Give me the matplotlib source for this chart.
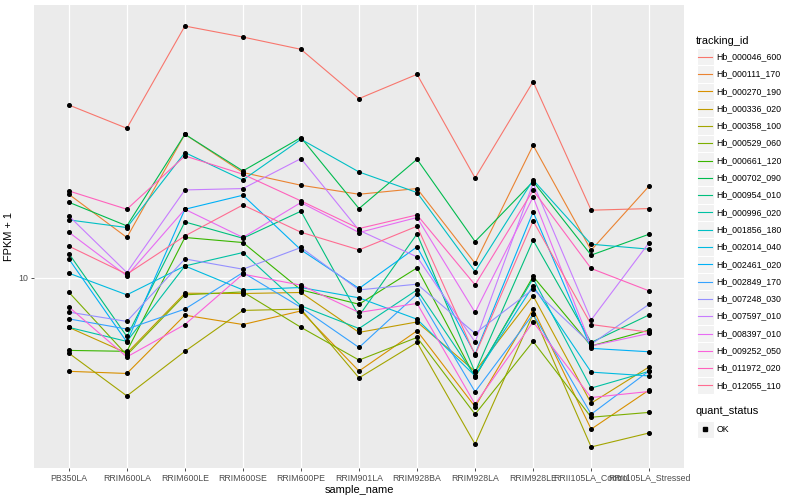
import numpy as np
import matplotlib.pyplot as plt
from matplotlib.patches import Rectangle
from matplotlib.ticker import NullLocator

plt.rcParams['font.family'] = ['Liberation Sans', 'DejaVu Sans']

samples = ["PB350LA", "RRIM600LA", "RRIM600LE", "RRIM600SE", "RRIM600PE",
           "RRIM901LA", "RRIM928BA", "RRIM928LA", "RRIM928LE",
           "RRII105LA_Control", "RRII105LA_Stressed"]

genes = ["Hb_000046_600", "Hb_000111_170", "Hb_000270_190", "Hb_000336_020",
         "Hb_000358_100", "Hb_000529_060", "Hb_000661_120", "Hb_000702_090",
         "Hb_000954_010", "Hb_000996_020", "Hb_001856_180", "Hb_002014_040",
         "Hb_002461_020", "Hb_002849_170", "Hb_007248_030", "Hb_007597_010",
         "Hb_008397_010", "Hb_009252_050", "Hb_011972_020", "Hb_012055_110"]

# ggplot hue palette, 20 levels
colors = ["#F8766D", "#EA8331", "#D89000", "#C09B00", "#A3A500", "#7CAE00",
          "#39B600", "#00BB4E", "#00BF7D", "#00C1A3", "#00BFC4", "#00BAE0",
          "#00B0F6", "#35A2FF", "#9590FF", "#C77CFF", "#E76BF3", "#FA62DB",
          "#FF62BC", "#FF6C91"]

# FPKM + 1 per gene, one value per sample
hb_000046_600 = [37.73, 31.55, 69.18, 63.58, 57.85, 39.63, 47.75, 21.54, 45.15, 16.82, 17.03]
hb_000111_170 = [19.01, 13.64, 30.13, 22.46, 20.37, 19.01, 19.86, 11.19, 27.69, 12.37, 20.26]
hb_000270_190 = [4.88, 4.80, 7.51, 6.99, 7.76, 4.89, 6.66, 3.72, 7.87, 3.13, 4.23]
hb_000336_020 = [6.84, 5.61, 8.89, 8.87, 8.94, 6.58, 7.13, 4.88, 8.71, 3.82, 5.05]
hb_000358_100 = [5.61, 4.04, 5.69, 7.79, 7.87, 4.64, 6.09, 2.79, 7.57, 2.73, 3.04]
hb_000529_060 = [8.96, 5.53, 8.78, 8.98, 6.84, 5.32, 6.33, 3.51, 6.14, 3.43, 3.56]
hb_000661_120 = [5.73, 5.69, 13.64, 13.12, 9.12, 8.17, 10.80, 4.66, 10.11, 5.93, 6.70]
hb_000702_090 = [17.88, 14.91, 30.13, 22.74, 29.38, 17.03, 24.87, 13.22, 20.96, 11.91, 13.99]
hb_000954_010 = [12.06, 6.38, 15.37, 13.56, 16.69, 7.47, 14.02, 4.84, 13.36, 6.09, 7.53]
hb_000996_020 = [6.84, 6.14, 10.96, 12.15, 8.07, 6.78, 9.12, 4.71, 9.95, 4.29, 4.88]
hb_001856_180 = [15.61, 14.72, 26.18, 21.22, 29.00, 22.56, 19.26, 10.50, 21.22, 12.95, 12.47]
hb_002014_040 = [10.37, 8.78, 10.96, 9.12, 9.29, 8.58, 7.28, 4.71, 9.40, 4.85, 4.71]
hb_002461_020 = [11.57, 6.11, 16.94, 18.87, 12.40, 9.22, 12.69, 5.57, 16.60, 5.82, 5.67]
hb_002849_170 = [7.30, 6.75, 7.87, 10.42, 7.97, 5.86, 8.83, 4.17, 7.57, 3.51, 4.90]
hb_007248_030 = [7.69, 7.16, 11.57, 10.69, 12.63, 9.12, 9.53, 6.53, 9.17, 6.01, 8.17]
hb_007597_010 = [16.10, 10.42, 19.65, 19.86, 25.00, 14.42, 11.75, 6.11, 20.69, 7.24, 13.12]
hb_008397_010 = [14.20, 10.16, 16.94, 13.64, 17.84, 14.17, 15.90, 7.67, 18.62, 5.93, 6.53]
hb_009252_050 = [8.00, 5.45, 6.99, 10.29, 9.46, 7.67, 8.22, 3.79, 7.13, 3.99, 4.18]
hb_011972_020 = [19.50, 16.94, 25.51, 22.17, 18.06, 14.61, 16.22, 9.48, 19.60, 10.75, 9.05]
hb_012055_110 = [12.76, 10.29, 13.80, 17.51, 14.20, 12.40, 14.87, 5.53, 15.49, 6.99, 6.59]

series = [hb_000046_600, hb_000111_170, hb_000270_190, hb_000336_020,
          hb_000358_100, hb_000529_060, hb_000661_120, hb_000702_090,
          hb_000954_010, hb_000996_020, hb_001856_180, hb_002014_040,
          hb_002461_020, hb_002849_170, hb_007248_030, hb_007597_010,
          hb_008397_010, hb_009252_050, hb_011972_020, hb_012055_110]

W, H = 800, 500
fig = plt.figure(figsize=(8, 5), dpi=100)
pl, pr, pt, pb = 34, 684, 5, 468
ax = fig.add_axes([pl / W, 1 - pb / H, (pr - pl) / W, (pb - pt) / H])
ax.set_facecolor('#EBEBEB')
for s in ax.spines.values():
    s.set_visible(False)

x = np.arange(len(samples))
for vals, c in zip(series, colors):
    ax.plot(x, vals, color=c, lw=0.8, zorder=2)
for vals in series:
    ax.plot(x, vals, ls='none', marker='o', ms=2.6, color='black', zorder=3)

ax.set_yscale('log')
allv = np.log10(np.concatenate([np.array(v) for v in series]))
lo, hi = allv.min(), allv.max()
pad = 0.05 * (hi - lo)
ax.set_ylim(10 ** (lo - pad), 10 ** (hi + pad))
ax.set_xlim(-0.6, len(samples) - 0.4)
ax.set_yticks([10])
ax.set_yticklabels(['10'])
ax.yaxis.set_minor_locator(NullLocator())
ax.set_xticks(x)
ax.set_xticklabels(samples)
ax.grid(True, which='major', color='white', lw=0.9, zorder=1)
ax.set_axisbelow(True)
ax.tick_params(axis='both', length=2.5, width=0.6, color='#333333',
               labelcolor='#4D4D4D', labelsize=6.3, pad=1.5)
ax.set_xlabel('sample_name', fontsize=7.9, labelpad=2)
ax.set_ylabel('FPKM + 1', fontsize=7.9, labelpad=3)

# legend drawn in pixel coordinates
lg = fig.add_axes([0, 0, 1, 1], zorder=5)
lg.set_xlim(0, W)
lg.set_ylim(H, 0)
lg.axis('off')
lg.text(696, 40.5, 'tracking_id', fontsize=7.9, va='center', ha='left')
step = 17.3
for i, (g, c) in enumerate(zip(genes, colors)):
    cy = 56.7 + step * i
    lg.add_patch(Rectangle((696.5, cy - step / 2), 17, step, facecolor='#F2F2F2',
                           edgecolor='white', lw=0.8))
    lg.plot([698, 712], [cy, cy], color=c, lw=0.8)
    lg.text(716.5, cy, g, fontsize=6.3, va='center', ha='left')
lg.text(696, 411.5, 'quant_status', fontsize=7.9, va='center', ha='left')
lg.add_patch(Rectangle((696.5, 429.3 - step / 2), 17, step, facecolor='#F2F2F2',
                       edgecolor='white', lw=0.8))
lg.plot([705], [429.3], ls='none', marker='s', ms=2.2, color='black')
lg.text(716.5, 429.3, 'OK', fontsize=6.3, va='center', ha='left')

fig.savefig('out.png', dpi=100)
